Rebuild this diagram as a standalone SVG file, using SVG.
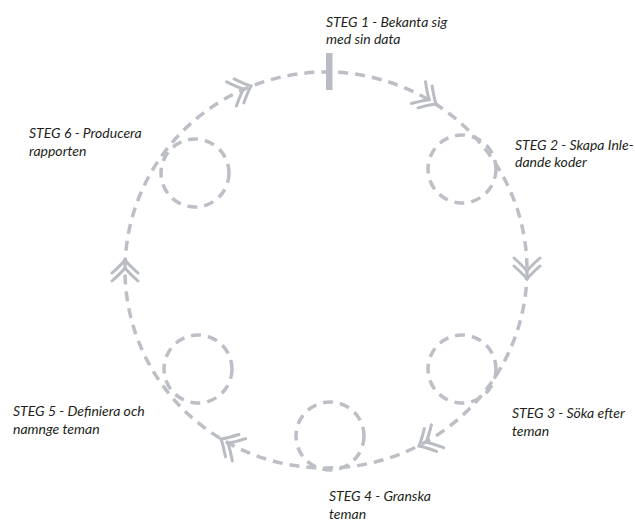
<svg xmlns="http://www.w3.org/2000/svg" width="635" height="532" viewBox="0 0 635 532">
  <defs>
    <style>
      .dash { fill: none; stroke: #bcbfc5; stroke-width: 3.5; stroke-dasharray: 10 7; }
      .chev { fill: none; stroke: #b9bcc2; stroke-width: 3; stroke-linecap: round; }
      .lbl { font-family: Lato, "Open Sans", "Liberation Sans", sans-serif; font-style: italic; font-size: 14px; fill: #231f20; }
    </style>
    <path id="chevron" class="chev" d="M-13,-13 Q-5,-4 0,0 Q-5,4 -13,13 M-21,-13 Q-13,-4 -8,0 Q-13,4 -21,13"/>
  </defs>
  <rect width="635" height="532" fill="#ffffff"/>

  <g id="connectors">
    <ellipse class="dash" cx="326" cy="270" rx="201" ry="198"/>
    <rect x="326" y="53" width="6.5" height="37" fill="#b9bcc3"/>
    <use href="#chevron" transform="translate(436,104) rotate(33)"/>
    <use href="#chevron" transform="translate(527,279) rotate(90)"/>
    <use href="#chevron" transform="translate(419,446) rotate(152)"/>
    <use href="#chevron" transform="translate(221,439) rotate(211)"/>
    <use href="#chevron" transform="translate(125,260) rotate(270)"/>
    <use href="#chevron" transform="translate(251,86) rotate(-22)"/>
  </g>

  <g id="step1">
    <text class="lbl" x="326" y="27">STEG 1 - Bekanta sig</text>
    <text class="lbl" x="326" y="44">med sin data</text>
  </g>
  <g id="step2">
    <circle class="dash" cx="462" cy="169" r="34"/>
    <text class="lbl" x="515" y="150">STEG 2 - Skapa Inle-</text>
    <text class="lbl" x="515" y="167">dande koder</text>
  </g>
  <g id="step3">
    <circle class="dash" cx="462" cy="369" r="34"/>
    <text class="lbl" x="512" y="418">STEG 3 - Söka efter</text>
    <text class="lbl" x="512" y="436">teman</text>
  </g>
  <g id="step4">
    <circle class="dash" cx="330" cy="436" r="34"/>
    <text class="lbl" x="329" y="501">STEG 4 - Granska</text>
    <text class="lbl" x="329" y="519">teman</text>
  </g>
  <g id="step5">
    <circle class="dash" cx="198" cy="369" r="34"/>
    <text class="lbl" x="13" y="416">STEG 5 - Definiera och</text>
    <text class="lbl" x="13" y="434">namnge teman</text>
  </g>
  <g id="step6">
    <circle class="dash" cx="195" cy="173" r="34"/>
    <text class="lbl" x="29" y="138">STEG 6 - Producera</text>
    <text class="lbl" x="29" y="156">rapporten</text>
  </g>
</svg>
